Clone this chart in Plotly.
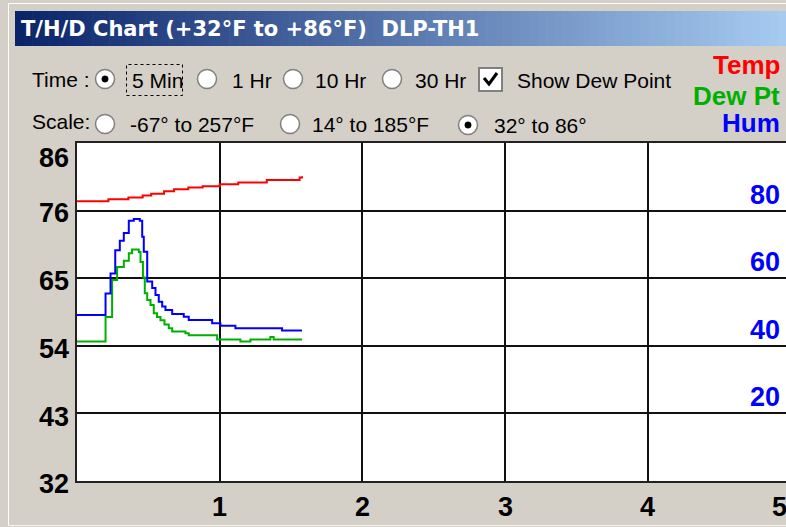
import plotly.graph_objects as go

W, H = 786, 527

# ---------------- data ----------------
time_temp = [0.00, 0.22, 0.36, 0.46, 0.52, 0.61, 0.68, 0.78, 0.88, 1.00, 1.13, 1.33, 1.56, 1.577]
temp = [76.7, 77.0, 77.3, 77.6, 77.9, 78.3, 78.6, 78.9, 79.1, 79.4, 79.7, 80.1, 80.5, 80.7]

time_hum = [0.000, 0.200, 0.235, 0.268, 0.300, 0.328, 0.363, 0.398, 0.440, 0.457, 0.468, 0.492,
            0.527, 0.550, 0.573, 0.597, 0.620, 0.667, 0.748, 0.783, 0.947, 1.005, 1.110, 1.437, 1.577]
hum = [49.1, 55.5, 61.4, 68.3, 71.1, 73.4, 77.0, 77.5, 77.0, 72.3, 67.8, 59.0,
       57.1, 55.0, 53.0, 51.6, 50.6, 49.4, 48.6, 47.6, 46.7, 45.9, 45.2, 44.5, 44.5]

time_dew = [0.000, 0.200, 0.246, 0.281, 0.328, 0.363, 0.386, 0.433, 0.445, 0.462, 0.475, 0.492,
            0.515, 0.538, 0.561, 0.585, 0.613, 0.643, 0.667, 0.760, 0.783, 0.982, 1.145, 1.215,
            1.355, 1.378, 1.577]
dew = [54.3, 58.2, 64.1, 66.2, 67.2, 68.4, 69.0, 68.6, 67.0, 64.5, 62.0, 60.9,
       60.1, 58.8, 58.2, 57.7, 57.0, 56.4, 55.9, 55.6, 55.3, 54.6, 54.3, 54.6,
       55.0, 54.6, 54.6]

temp_min, temp_max = 32, 86
temp_grid = [42.8, 53.6, 64.4, 75.2]
temp_tick_labels = ["86", "76", "65", "54", "43", "32"]
hum_tick_vals = [80, 60, 40, 20]
hum_tick_labels = ["80", "60", "40", "20"]
x_ticks = [1, 2, 3, 4]
x_tick_labels = ["1", "2", "3", "4"]

title_text = "T/H/D Chart (+32°F to +86°F)  DLP-TH1"

BG = "#D4D0C8"
RED = "#FF0000"
GREEN = "#00B000"
BLUE = "#0000FF"


def px(x):
    return x / W


def py(y):
    return 1 - y / H


fig = go.Figure()
fig.add_trace(go.Scatter(x=time_temp, y=temp, mode="lines", line=dict(color=RED, width=2, shape="hv"),
                         yaxis="y", showlegend=False, hoverinfo="skip"))
fig.add_trace(go.Scatter(x=time_dew, y=dew, mode="lines", line=dict(color=GREEN, width=2, shape="hv"),
                         yaxis="y", showlegend=False, hoverinfo="skip"))
fig.add_trace(go.Scatter(x=time_hum, y=hum, mode="lines", line=dict(color=BLUE, width=2, shape="hv"),
                         yaxis="y2", showlegend=False, hoverinfo="skip"))

shapes = []
annotations = []

# window frame highlight lines
shapes.append(dict(type="line", xref="paper", yref="paper", x0=px(8.5), x1=px(8.5), y0=py(3.5), y1=py(525.5),
                   line=dict(color="#FFFFFF", width=1)))
shapes.append(dict(type="line", xref="paper", yref="paper", x0=px(8.5), x1=1, y0=py(3.5), y1=py(3.5),
                   line=dict(color="#FFFFFF", width=1)))
shapes.append(dict(type="line", xref="paper", yref="paper", x0=px(8.5), x1=1, y0=py(525.5), y1=py(525.5),
                   line=dict(color="#F4F4F4", width=1)))

# title bar gradient (strips)
c0 = (10, 36, 106)
c1 = (166, 202, 240)
x_start, x_end = 15, 786
n = 90
for i in range(n):
    f = i / (n - 1)
    col = "rgb(%d,%d,%d)" % tuple(round(c0[k] + (c1[k] - c0[k]) * f) for k in range(3))
    xa = x_start + (x_end - x_start) * i / n
    xb = x_start + (x_end - x_start) * (i + 1) / n + 0.6
    shapes.append(dict(type="rect", xref="paper", yref="paper", x0=px(xa), x1=px(min(xb, W)),
                       y0=py(46), y1=py(11), fillcolor=col, line=dict(width=0), layer="below"))

annotations.append(dict(text="<b>" + title_text + "</b>", xref="paper", yref="paper", x=px(19), y=py(29),
                        xanchor="left", yanchor="middle", showarrow=False,
                        font=dict(family="DejaVu Sans", size=21, color="white")))

# controls
CF = dict(family="Liberation Sans", size=21, color="black")


def label(t, x, y, font=CF):
    annotations.append(dict(text=t, xref="paper", yref="paper", x=px(x), y=py(y), xanchor="left",
                            yanchor="middle", showarrow=False, font=font))


def radio(cx, cy, selected):
    r = 9.5
    shapes.append(dict(type="circle", xref="paper", yref="paper", x0=px(cx - r), x1=px(cx + r),
                       y0=py(cy + r), y1=py(cy - r), fillcolor="white", line=dict(color="#808080", width=1.5)))
    if selected:
        d = 3.2
        shapes.append(dict(type="circle", xref="paper", yref="paper", x0=px(cx - d), x1=px(cx + d),
                           y0=py(cy + d), y1=py(cy - d), fillcolor="black", line=dict(color="black", width=0.5)))


label("Time :", 30, 79)
radio(105, 79, True)
label("5 Min", 130, 80)
shapes.append(dict(type="rect", xref="paper", yref="paper", x0=px(126.5), x1=px(182.5), y0=py(95.5), y1=py(64.5),
                   line=dict(color="black", width=1, dash="dot")))
radio(207, 79, False)
label("1 Hr", 230, 80)
radio(293, 79, False)
label("10 Hr", 313, 80)
radio(392, 79, False)
label("30 Hr", 413, 80)
# checkbox
shapes.append(dict(type="rect", xref="paper", yref="paper", x0=px(479), x1=px(502), y0=py(91), y1=py(68),
                   fillcolor="white", line=dict(color="#808080", width=2)))
shapes.append(dict(type="path", xref="paper", yref="paper",
                   path="M %f,%f L %f,%f L %f,%f" % (px(484), py(78), px(489), py(84), px(497), py(73)),
                   line=dict(color="black", width=3)))
label("Show Dew Point", 515, 80)

label("Scale:", 30, 122)
radio(105, 124, False)
label("-67° to 257°F", 128, 124)
radio(290, 124, False)
label("14° to 185°F", 310, 124)
radio(468, 125, True)
label("32° to 86°", 492, 125)

# legend texts
LF = "Liberation Sans"
for t, c, y in [("Temp", RED, 65), ("Dew Pt", GREEN, 96), ("Hum", BLUE, 123)]:
    annotations.append(dict(text="<b>%s</b>" % t, xref="paper", yref="paper", x=px(782), y=py(y),
                            xanchor="right", yanchor="middle", showarrow=False,
                            font=dict(family=LF, size=26, color=c)))

# left axis labels
AF = dict(family=LF, size=27, color="black")
label_y = [158, 213, 281, 349, 417, 484]
for t, yy in zip(temp_tick_labels, label_y):
    annotations.append(dict(text="<b>%s</b>" % t, xref="paper", yref="paper", x=px(71), y=py(yy),
                            xanchor="right", yanchor="middle", showarrow=False, font=AF))

# bottom axis labels
for v, t in zip(x_ticks, x_tick_labels):
    annotations.append(dict(text="<b>%s</b>" % t, xref="x", yref="paper", x=v, y=py(507),
                            xanchor="center", yanchor="middle", showarrow=False, font=AF))
annotations.append(dict(text="<b>5</b>", xref="paper", yref="paper", x=px(779), y=py(507),
                        xanchor="center", yanchor="middle", showarrow=False, font=AF))

# humidity labels
for v, t in zip(hum_tick_vals, hum_tick_labels):
    annotations.append(dict(text="<b>%s</b>" % t, xref="paper", yref="y2", x=px(782), y=v, yshift=16,
                            xanchor="right", yanchor="middle", showarrow=False,
                            font=dict(family=LF, size=27, color=BLUE)))

x_left = 77
plot_top, plot_bottom = 143, 481
x_range_max = 5 * (W - x_left) / (790.5 - x_left)

fig.update_layout(
    width=W, height=H,
    margin=dict(l=0, r=0, t=0, b=0),
    paper_bgcolor=BG, plot_bgcolor="white",
    showlegend=False,
    shapes=shapes, annotations=annotations,
    xaxis=dict(domain=[x_left / W, 1], range=[0, x_range_max], tickvals=x_ticks, showticklabels=False,
               showgrid=True, gridcolor="#111111", gridwidth=2, zeroline=False,
               showline=True, mirror=True, linecolor="#222222", linewidth=2, ticks="", fixedrange=True),
    yaxis=dict(domain=[1 - plot_bottom / H, 1 - plot_top / H], range=[temp_min, temp_max],
               tickvals=temp_grid, showticklabels=False, showgrid=True, gridcolor="#111111", gridwidth=2,
               zeroline=False, showline=True, linecolor="#222222", linewidth=2, ticks="", fixedrange=True),
    yaxis2=dict(domain=[1 - plot_bottom / H, 1 - plot_top / H], range=[0, 100], overlaying="y",
                anchor="x", side="right", showgrid=False, showticklabels=False, zeroline=False,
                showline=False, ticks="", fixedrange=True),
)

fig.write_html("out.html", config=dict(displayModeBar=False),
               post_script="document.body.style.margin='0';document.body.style.overflow='hidden';")
